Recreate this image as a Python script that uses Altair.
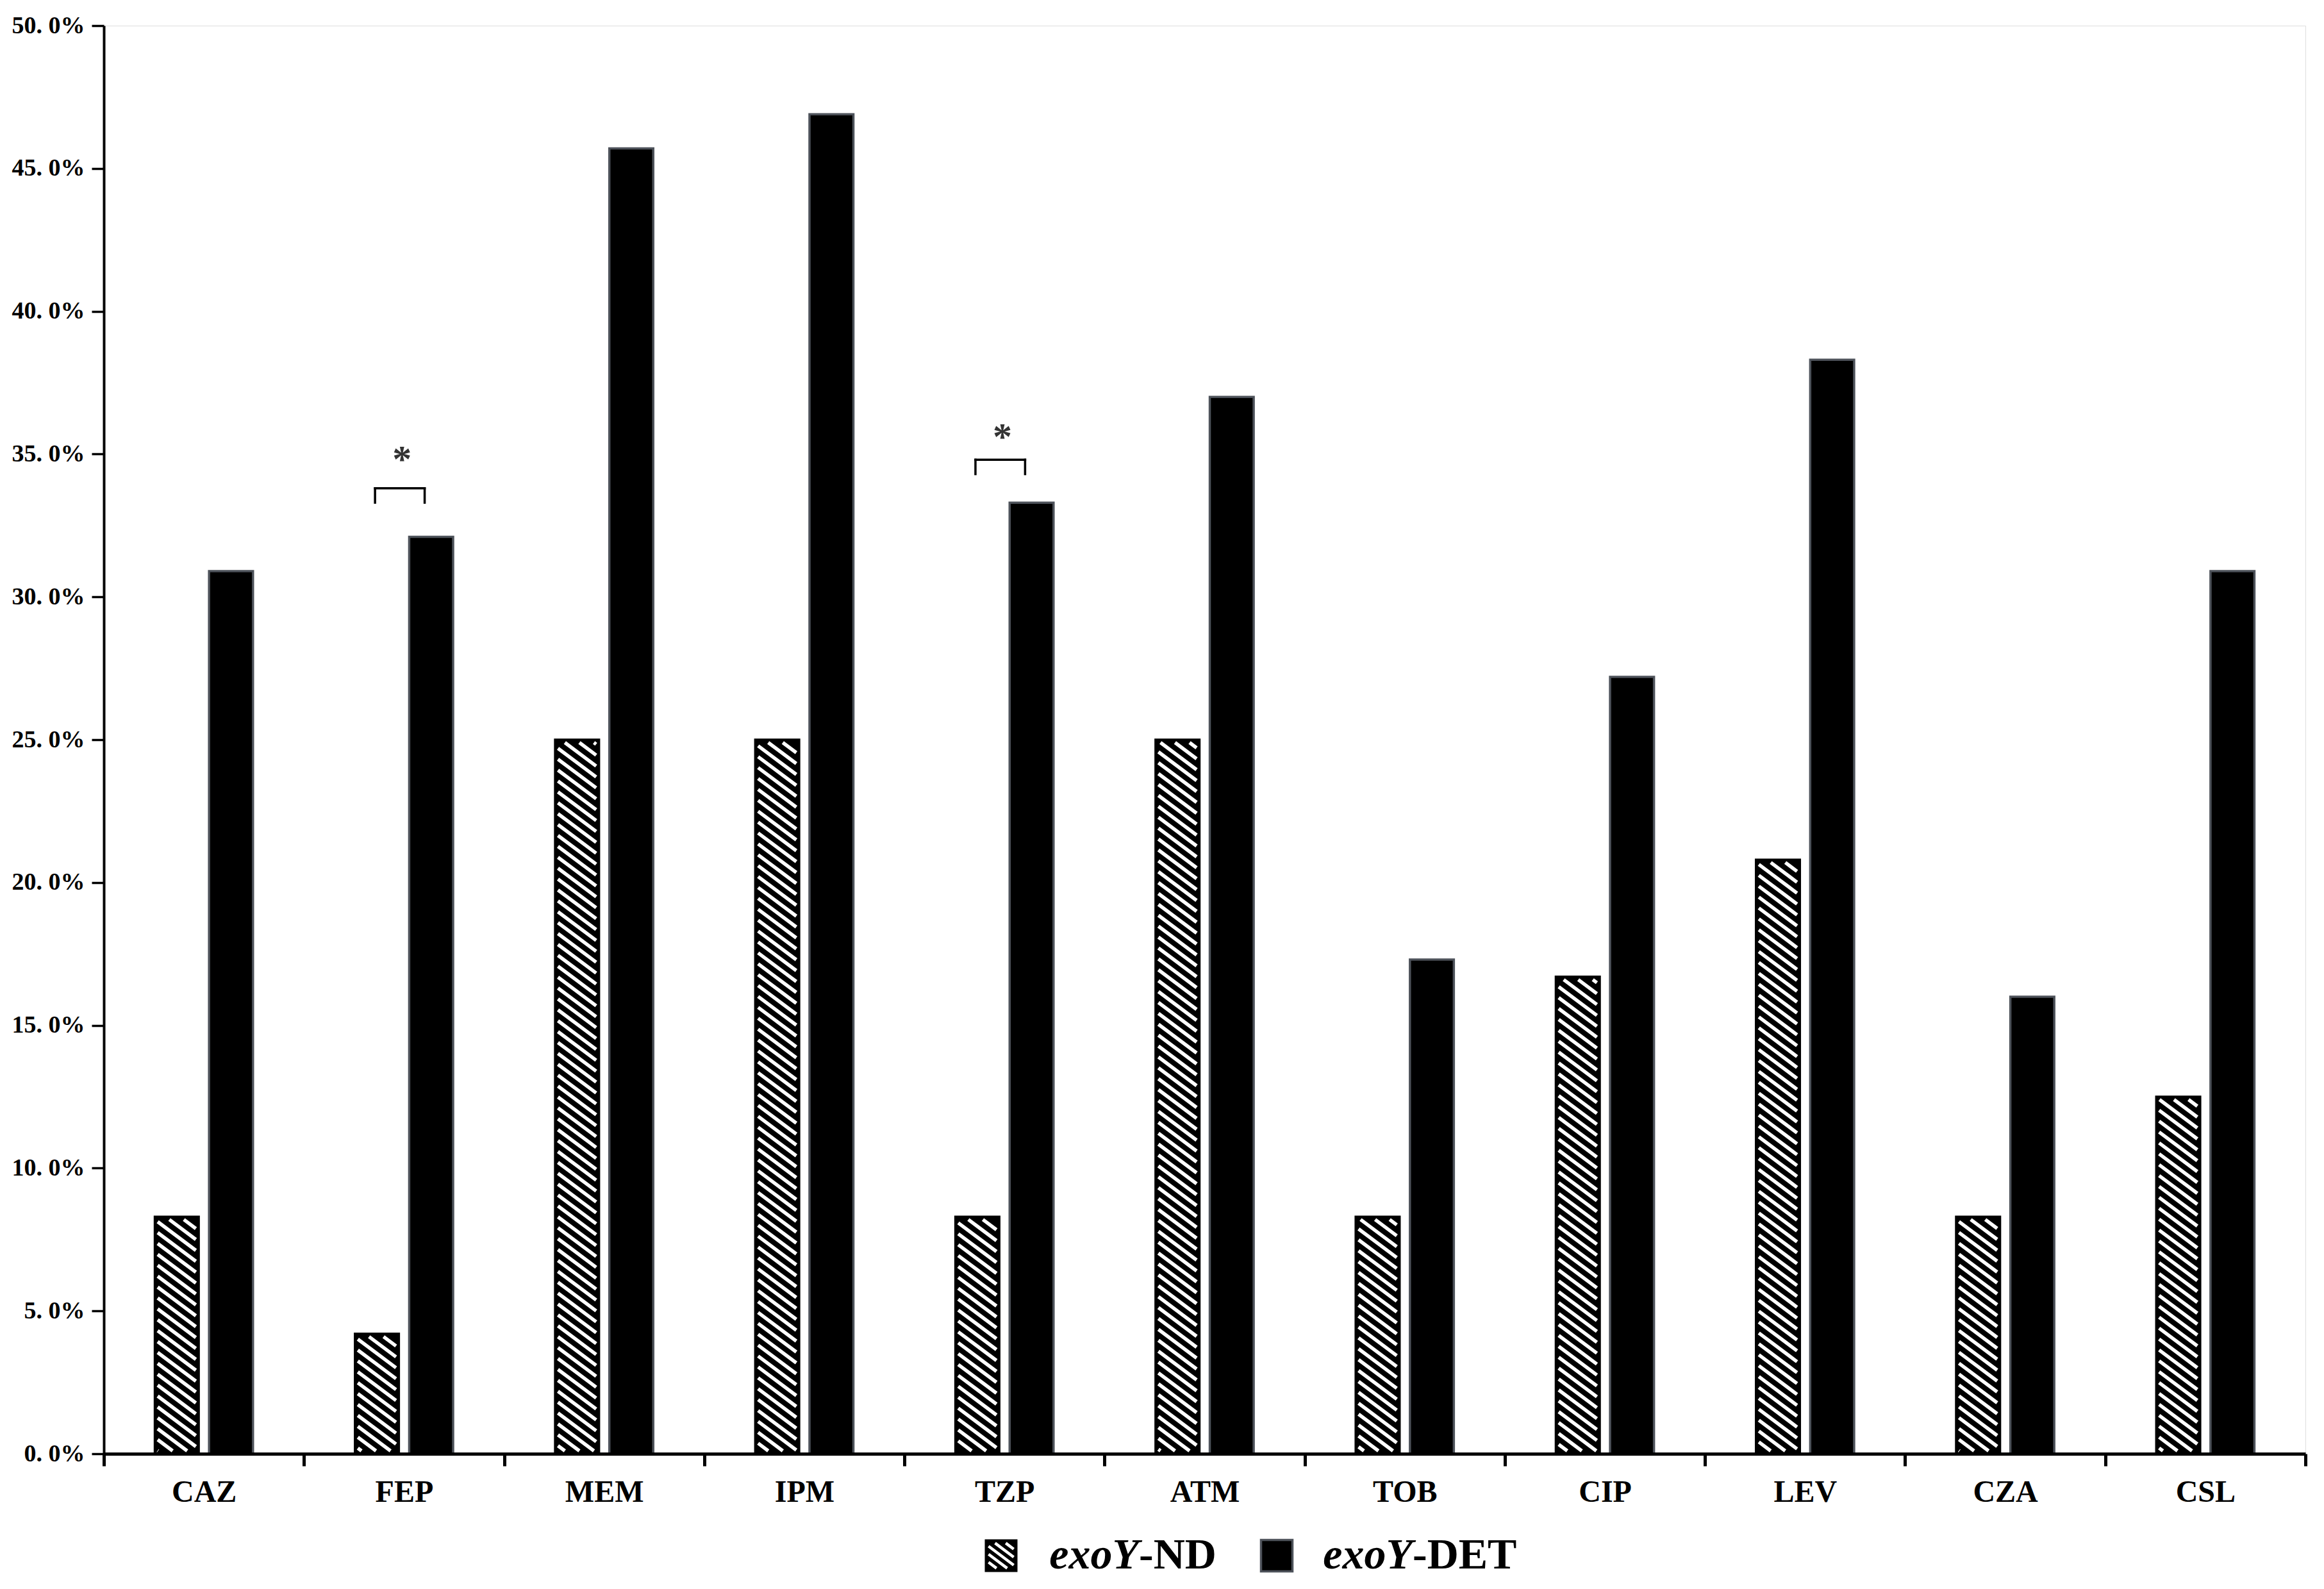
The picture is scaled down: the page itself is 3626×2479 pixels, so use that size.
import math
import altair as alt
import pandas as pd

# ---------------- data ----------------
categories = ["CAZ", "FEP", "MEM", "IPM", "TZP", "ATM", "TOB", "CIP", "LEV", "CZA", "CSL"]
nd_values = [8.3, 4.2, 25.0, 25.0, 8.3, 25.0, 8.3, 16.7, 20.8, 8.3, 12.5]
det_values = [30.9, 32.1, 45.7, 46.9, 33.3, 37.0, 17.3, 27.2, 38.3, 16.0, 30.9]
series = ["exoY-ND", "exoY-DET"]
y_ticks = [0, 5, 10, 15, 20, 25, 30, 35, 40, 45, 50]

sig_categories = ["FEP", "TZP"]
sig_bracket_y = [33.8, 34.8]
sig_tick_y = [33.3, 34.3]
sig_star_y = [35.0, 35.8]

# ---------------- layout constants ----------------
W, H = 3435, 2228
N = len(categories)
Y_MAX = 50.0
PI, PO = 0.19, 0.94                      # inner/outer padding of the xOffset band scale
STEP = 1.0 / (2 - PI + 2 * PO)
ND_X0 = PO * STEP
ND_X1 = ND_X0 + STEP * (1 - PI)
PX_X = W / N
PX_Y = H / Y_MAX

FONT = "Liberation Serif"

bars_df = pd.DataFrame(
    [{"category": c, "series": series[0], "value": v} for c, v in zip(categories, nd_values)]
    + [{"category": c, "series": series[1], "value": v} for c, v in zip(categories, det_values)]
)

# ---------------- hatch texture for the ND bars ----------------
TAN = 0.75
VSP = 17.0
INSET = 4.5


def hatch_segments():
    rows = []
    for i, v in enumerate(nd_values):
        X0 = (i + ND_X0) * PX_X + INSET
        X1 = (i + ND_X1) * PX_X - INSET
        Y0 = INSET
        Y1 = v * PX_Y - INSET
        cmin = Y0 + TAN * X0
        cmax = Y1 + TAN * X1
        for k in range(math.ceil(cmin / VSP), math.floor(cmax / VSP) + 1):
            c = k * VSP
            xa = max(X0, (c - Y1) / TAN)
            xb = min(X1, (c - Y0) / TAN)
            if xb - xa > 0.5:
                rows.append({
                    "x": xa / PX_X, "y": (c - TAN * xa) / PX_Y,
                    "x2": xb / PX_X, "y2": (c - TAN * xb) / PX_Y,
                })
    return pd.DataFrame(rows)


hatch_df = hatch_segments()

# ---------------- significance brackets ----------------
BR_A, BR_B, STAR_X = 0.355, 0.603, 0.49
br_rows, star_rows = [], []
for cat, by, ty, sy in zip(sig_categories, sig_bracket_y, sig_tick_y, sig_star_y):
    j = categories.index(cat)
    br_rows.append({"x": j + BR_A, "x2": j + BR_B, "y": by, "y2": by})
    br_rows.append({"x": j + BR_A, "x2": j + BR_A, "y": by, "y2": ty})
    br_rows.append({"x": j + BR_B, "x2": j + BR_B, "y": by, "y2": ty})
    star_rows.append({"x": j + STAR_X, "y": sy})
br_df = pd.DataFrame(br_rows)
star_df = pd.DataFrame(star_rows)

# ---------------- scales / axes ----------------
y_scale = alt.Scale(domain=[0, Y_MAX], nice=False, zero=True)
y_axis = alt.Axis(
    title=None, values=y_ticks, grid=False,
    labelExpr="replace(format(datum.value, '.1f'), '.', '. ') + '%'",
    labelFont=FONT, labelFontSize=38, labelFontWeight="bold", labelColor="black",
    labelPadding=11, tickSize=19, tickWidth=3.5, tickColor="black",
    domainColor="black", domainWidth=4, zindex=1,
)
x_axis = alt.Axis(
    title=None, labelAngle=0, tickBand="extent",
    labelFont=FONT, labelFontSize=48, labelFontWeight="bold", labelColor="black",
    labelPadding=17, tickSize=19, tickWidth=5, tickColor="black",
    domainColor="black", domainWidth=5, zindex=1,
)
xq_scale = alt.Scale(domain=[0, N], nice=False, zero=False)

bars = alt.Chart(bars_df).mark_bar(strokeWidth=3.5).encode(
    x=alt.X("category:N", sort=categories, scale=alt.Scale(paddingInner=0, paddingOuter=0), axis=x_axis),
    xOffset=alt.XOffset("series:N", scale=alt.Scale(domain=series, paddingInner=PI, paddingOuter=PO)),
    y=alt.Y("value:Q", scale=y_scale, axis=y_axis),
    fill=alt.Fill("series:N", scale=alt.Scale(domain=series, range=["black", "black"]), legend=None),
    stroke=alt.Stroke("series:N", scale=alt.Scale(domain=series, range=["black", "#4d525a"]), legend=None),
)

hatch = alt.Chart(hatch_df).mark_rule(color="white", strokeWidth=5.5, strokeCap="butt").encode(
    x=alt.X("x:Q", scale=xq_scale, axis=None),
    x2="x2:Q",
    y=alt.Y("y:Q", scale=y_scale, axis=y_axis),
    y2="y2:Q",
)

brackets = alt.Chart(br_df).mark_rule(color="black", strokeWidth=3.5, strokeCap="square").encode(
    x=alt.X("x:Q", scale=xq_scale, axis=None),
    x2="x2:Q",
    y=alt.Y("y:Q", scale=y_scale, axis=y_axis),
    y2="y2:Q",
)

stars = alt.Chart(star_df).mark_text(
    text="*", font=FONT, fontSize=60, fontWeight="bold", color="#333333",
    baseline="alphabetic", dy=28,
).encode(
    x=alt.X("x:Q", scale=xq_scale, axis=None),
    y=alt.Y("y:Q", scale=y_scale, axis=y_axis),
)

# ---------------- manual legend ----------------
SYM = 49
LEG_Y = 2387
LEG_BASE = 2407
legend_syms_x = [1400, 1830]
legend_split_x = [1615, 2042]
legend_rest = ["-ND", "-DET"]


def stripe_path():
    lim = 0.8
    t = TAN
    vs = 12.5 / (SYM / 2.0)
    parts = []
    for k in range(-8, 9):
        c = k * vs
        xa = max(-lim, (-lim - c) / t)
        xb = min(lim, (lim - c) / t)
        if xb - xa > 0.05:
            parts.append(f"M{xa:.3f},{t * xa + c:.3f}L{xb:.3f},{t * xb + c:.3f}")
    return "".join(parts)


leg_df = pd.DataFrame({"k": [0]})
legend_layers = []
legend_layers.append(alt.Chart(leg_df).mark_square(
    size=SYM * SYM, filled=True, opacity=1, color="black", stroke="black", strokeWidth=2,
).encode(x=alt.value(legend_syms_x[0]), y=alt.value(LEG_Y)))
legend_layers.append(alt.Chart(leg_df).mark_point(
    shape=stripe_path(), size=SYM * SYM, filled=False, opacity=1, color="white",
    strokeWidth=4.5, strokeCap="butt",
).encode(x=alt.value(legend_syms_x[0]), y=alt.value(LEG_Y)))
legend_layers.append(alt.Chart(leg_df).mark_square(
    size=SYM * SYM, filled=True, opacity=1, color="black", stroke="#4d525a", strokeWidth=3.5,
).encode(x=alt.value(legend_syms_x[1]), y=alt.value(LEG_Y)))
for sx, rest in zip(legend_split_x, legend_rest):
    legend_layers.append(alt.Chart(leg_df).mark_text(
        text="exoY", font=FONT, fontSize=68, fontStyle="italic", fontWeight="bold",
        color="black", align="right", baseline="alphabetic",
    ).encode(x=alt.value(sx), y=alt.value(LEG_BASE)))
    legend_layers.append(alt.Chart(leg_df).mark_text(
        text=rest, font=FONT, fontSize=68, fontWeight="bold",
        color="black", align="left", baseline="alphabetic",
    ).encode(x=alt.value(sx), y=alt.value(LEG_BASE)))

chart = alt.layer(bars, hatch, brackets, stars, *legend_layers).resolve_scale(
    x="independent"
).resolve_axis(
    x="independent"
).properties(
    width=W, height=H,
    padding={"left": 154, "top": 32, "right": 14, "bottom": 202},
    autosize=alt.AutoSizeParams(type="none"),
).configure_view(stroke=None).configure(background="white")

chart.save("out.html", embed_options={"renderer": "svg", "actions": False})
